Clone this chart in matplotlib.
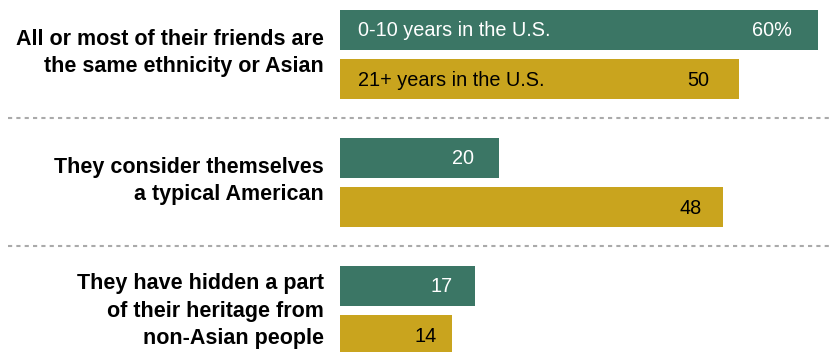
import matplotlib; matplotlib.use("Agg")
import matplotlib.pyplot as plt

questions = ["All or most of their friends are\nthe same ethnicity or Asian",
             "They consider themselves\na typical American",
             "They have hidden a part\nof their heritage from\nnon-Asian people"]
recent = [60, 20, 17]      # 0-10 years in the U.S.
longtime = [50, 48, 14]    # 21+ years in the U.S.
series_names = ["0-10 years in the U.S.", "21+ years in the U.S."]

GREEN = "#3b7665"
GOLD = "#c9a41e"

W, H = 830, 352
px = 7.97          # pixels per percentage point
x0 = 340           # bar origin in pixels
# gap (px) between each value label and the end of its bar
pad_recent = [26, 25, 23]
pad_long = [29, 21, 15]

fig = plt.figure(figsize=(W / 100, H / 100), dpi=100)
ax = fig.add_axes([0, 0, 1, 1])
ax.set_xlim(-x0 / px, (W - x0) / px)
ax.set_ylim(H, 0)
ax.axis("off")

for i, q in enumerate(questions):
    top = 10 + 128 * i
    yg, yo = top + 20, top + 69
    ax.barh(yg, recent[i], height=40, left=0, color=GREEN)
    ax.barh(yo, longtime[i], height=40, left=0, color=GOLD)
    lab = f"{recent[i]}%" if i == 0 else f"{recent[i]}"
    ax.text(recent[i] - pad_recent[i] / px, yg + 1, lab, ha="right", va="center",
            color="white", fontsize=14.3, family="Liberation Sans")
    ax.text(longtime[i] - pad_long[i] / px, yo + 1, f"{longtime[i]}", ha="right",
            va="center", color="black", fontsize=14.3, family="Liberation Sans")
    if i == 0:
        ax.text(18 / px, yg + 1, series_names[0], ha="left", va="center",
                color="white", fontsize=14.3, family="Liberation Sans")
        ax.text(18 / px, yo + 1, series_names[1], ha="left", va="center",
                color="black", fontsize=14.3, family="Liberation Sans")
    nl = q.count("\n")
    ax.text(-16 / px, top + 41 + 2 * nl, q, ha="right", va="center", fontsize=15.5,
            fontweight="bold", family="Liberation Sans", linespacing=1.4)
    if i < len(questions) - 1:
        ax.plot([(8 - x0) / px, (W - x0) / px], [top + 108, top + 108],
                color="#aaaaaa", lw=1.5, ls=(0, (2, 2)), clip_on=False)

fig.savefig("out.png", dpi=100)
